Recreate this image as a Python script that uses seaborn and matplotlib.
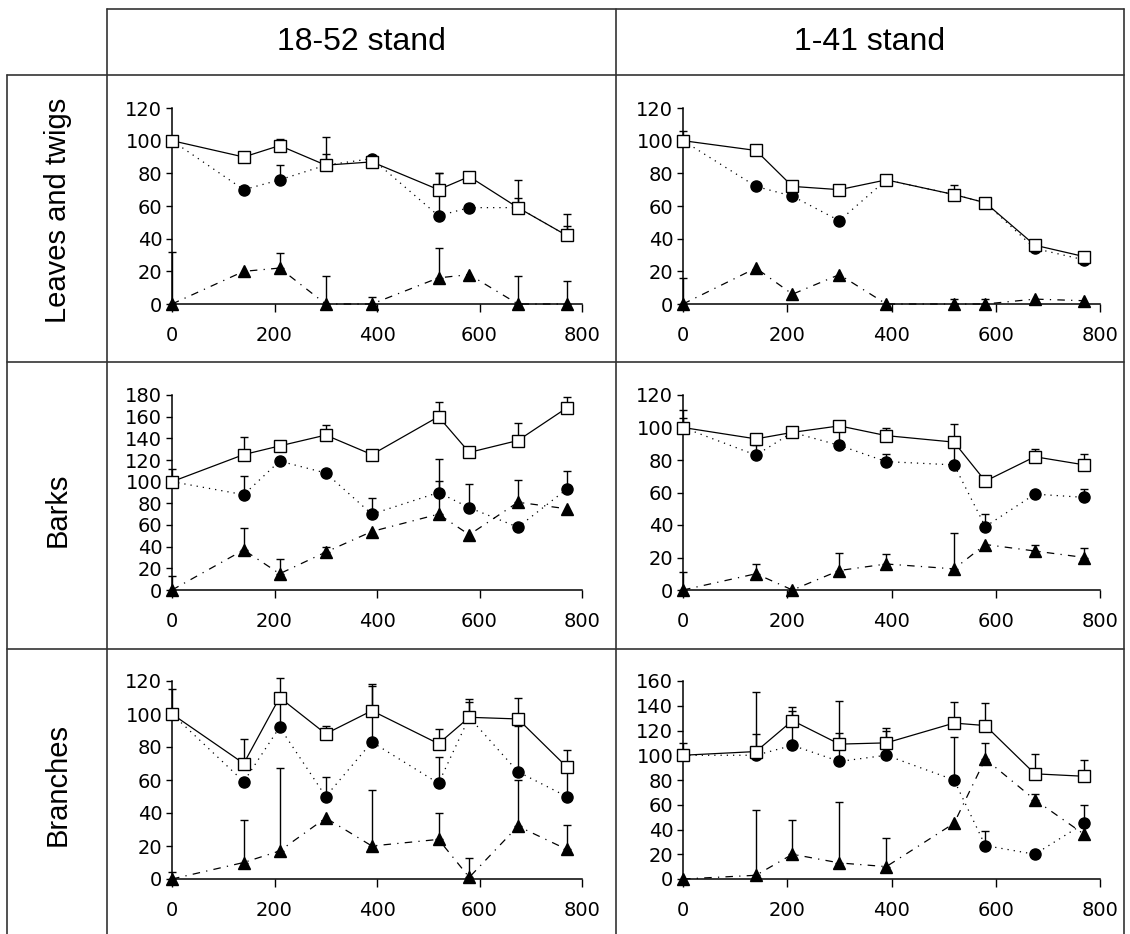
import matplotlib
matplotlib.use("Agg")
import matplotlib.pyplot as plt
from matplotlib.lines import Line2D
import pandas as pd
import seaborn as sns

# distance along the transect, shared by every panel
distance = [0, 140, 210, 300, 390, 520, 580, 675, 770]

stands = ["18-52 stand", "1-41 stand"]
parts = ["Leaves and twigs", "Barks", "Branches"]

# Leaves and twigs - 18-52 stand
leaves_a_total = [100, 90, 97, 85, 87, 70, 78, 59, 42]
leaves_a_total_err = [0, 2, 4, 17, 3, 10, 0, 17, 13]
leaves_a_circle = [100, 70, 76, 85, 89, 54, 59, 59, 42]
leaves_a_circle_err = [0, 0, 9, 7, 0, 26, 0, 6, 6]
leaves_a_tri = [0, 20, 22, 0, 0, 16, 18, 0, 0]
leaves_a_tri_err = [32, 0, 9, 17, 4, 18, 0, 17, 14]

# Leaves and twigs - 1-41 stand
leaves_b_total = [100, 94, 72, 70, 76, 67, 62, 36, 29]
leaves_b_total_err = [6, 0, 0, 0, 0, 6, 0, 0, 0]
leaves_b_circle = [100, 72, 66, 51, 76, 67, 62, 34, 27]
leaves_b_circle_err = [0, 0, 0, 0, 0, 0, 0, 0, 0]
leaves_b_tri = [0, 22, 6, 18, 0, 0, 0, 3, 2]
leaves_b_tri_err = [16, 0, 0, 0, 0, 3, 3, 0, 0]

# Barks - 18-52 stand
barks_a_total = [100, 125, 133, 143, 125, 160, 127, 138, 168]
barks_a_total_err = [12, 16, 5, 9, 0, 14, 5, 16, 10]
barks_a_circle = [100, 88, 119, 108, 70, 90, 76, 58, 93]
barks_a_circle_err = [0, 17, 0, 0, 15, 31, 22, 0, 17]
barks_a_tri = [0, 37, 15, 35, 54, 70, 51, 81, 75]
barks_a_tri_err = [13, 20, 14, 5, 0, 31, 0, 21, 0]

# Barks - 1-41 stand
barks_b_total = [100, 93, 97, 101, 95, 91, 67, 82, 77]
barks_b_total_err = [11, 0, 0, 0, 5, 11, 0, 5, 7]
barks_b_circle = [100, 83, 97, 89, 79, 77, 39, 59, 57]
barks_b_circle_err = [6, 6, 0, 12, 5, 14, 8, 0, 5]
barks_b_tri = [0, 10, 0, 12, 16, 13, 28, 24, 20]
barks_b_tri_err = [11, 6, 0, 11, 6, 22, 0, 4, 6]

# Branches - 18-52 stand
branches_a_total = [100, 70, 110, 88, 102, 82, 98, 97, 68]
branches_a_total_err = [15, 15, 12, 5, 16, 9, 11, 13, 10]
branches_a_circle = [100, 59, 92, 50, 83, 58, 98, 65, 50]
branches_a_circle_err = [0, 0, 18, 12, 34, 16, 9, 28, 15]
branches_a_tri = [0, 10, 17, 37, 20, 24, 1, 32, 18]
branches_a_tri_err = [4, 26, 50, 0, 34, 16, 12, 28, 15]

# Branches - 1-41 stand
branches_b_total = [100, 103, 128, 109, 110, 126, 124, 85, 83]
branches_b_total_err = [10, 48, 11, 35, 12, 17, 18, 16, 13]
branches_b_circle = [100, 100, 108, 95, 100, 80, 27, 20, 45]
branches_b_circle_err = [0, 17, 28, 23, 20, 35, 12, 0, 15]
branches_b_tri = [0, 3, 20, 13, 10, 45, 97, 64, 36]
branches_b_tri_err = [0, 53, 28, 49, 23, 0, 13, 5, 0]

y_max = {("Leaves and twigs", 0): 120, ("Leaves and twigs", 1): 120,
         ("Barks", 0): 180, ("Barks", 1): 120,
         ("Branches", 0): 120, ("Branches", 1): 160}

panel_data = {
    ("Leaves and twigs", 0): [(leaves_a_total, leaves_a_total_err), (leaves_a_circle, leaves_a_circle_err), (leaves_a_tri, leaves_a_tri_err)],
    ("Leaves and twigs", 1): [(leaves_b_total, leaves_b_total_err), (leaves_b_circle, leaves_b_circle_err), (leaves_b_tri, leaves_b_tri_err)],
    ("Barks", 0): [(barks_a_total, barks_a_total_err), (barks_a_circle, barks_a_circle_err), (barks_a_tri, barks_a_tri_err)],
    ("Barks", 1): [(barks_b_total, barks_b_total_err), (barks_b_circle, barks_b_circle_err), (barks_b_tri, barks_b_tri_err)],
    ("Branches", 0): [(branches_a_total, branches_a_total_err), (branches_a_circle, branches_a_circle_err), (branches_a_tri, branches_a_tri_err)],
    ("Branches", 1): [(branches_b_total, branches_b_total_err), (branches_b_circle, branches_b_circle_err), (branches_b_tri, branches_b_tri_err)],
}
series_names = ["total", "circle", "triangle"]

# long table for seaborn
rows = []
for (part, col), series in panel_data.items():
    for name, (vals, errs) in zip(series_names, series):
        for d, v, e in zip(distance, vals, errs):
            rows.append(dict(part=part, stand=col, series=name, distance=d, value=v, err=e))
df = pd.DataFrame(rows)

styles = {
    "total": dict(marker="s", mfc="white", ls="-", ms=9, z=6),
    "circle": dict(marker="o", mfc="black", ls=(0, (1, 4)), ms=8, z=5),
    "triangle": dict(marker="^", mfc="black", ls=(0, (6, 5, 1, 5)), ms=9, z=4),
}

sns.set_style("ticks")
plt.rcParams["font.family"] = ["DejaVu Sans"]
plt.rcParams["text.color"] = "black"

W, H = 1130, 934
fig = plt.figure(figsize=(W / 100, H / 100), dpi=100)

# panel boxes in pixels: x at 0, x at 800, y at 0, y at top
col_x = [(172, 582), (683, 1100)]
row_y = {"Leaves and twigs": (304, 108), "Barks": (590, 395), "Branches": (879, 681)}

for part in parts:
    for col in range(2):
        x0, x1 = col_x[col]
        y0, y1 = row_y[part]
        ax = fig.add_axes([x0 / W, 1 - y0 / H, (x1 - x0) / W, (y0 - y1) / H])
        sub = df[(df.part == part) & (df.stand == col)]
        for name in series_names:
            s = sub[sub.series == name]
            st = styles[name]
            sns.lineplot(data=s, x="distance", y="value", ax=ax, color="black",
                         linestyle=st["ls"], linewidth=0.9, marker=st["marker"],
                         markersize=st["ms"], markerfacecolor=st["mfc"],
                         markeredgecolor="black", markeredgewidth=1,
                         clip_on=False, zorder=st["z"], estimator=None,
                         errorbar=None, sort=False, legend=False)
            e = s[s.err > 0]
            ax.errorbar(e.distance, e.value, yerr=[[0] * len(e), e.err], fmt="none",
                        ecolor="black", elinewidth=1, capsize=3, capthick=1,
                        clip_on=False, zorder=3)
        ax.set_xlim(0, 800)
        ax.set_ylim(0, y_max[(part, col)])
        ax.set_xticks([0, 200, 400, 600, 800])
        ax.set_yticks(range(0, y_max[(part, col)] + 1, 20))
        ax.set_xlabel("")
        ax.set_ylabel("")
        ax.set_facecolor("none")
        for side in ["top", "right"]:
            ax.spines[side].set_visible(False)
        for side in ["left", "bottom"]:
            ax.spines[side].set_linewidth(1.1)
            ax.spines[side].set_color("black")
        ax.tick_params(axis="x", direction="out", length=6, width=1, pad=10,
                       labelsize=14, colors="black")
        ax.tick_params(axis="y", direction="out", length=4, width=1, pad=3,
                       labelsize=14, colors="black")
        for lab in ax.get_xticklabels() + ax.get_yticklabels():
            lab.set_family("DejaVu Sans")

# table frame
def line_px(xa, ya, xb, yb):
    fig.add_artist(Line2D([xa / W, xb / W], [1 - ya / H, 1 - yb / H],
                          transform=fig.transFigure, color="#333333", linewidth=1.2))

line_px(107, 9, 1124, 9)
for y in [75, 362, 649]:
    line_px(7, y, 1124, y)
line_px(7, 75, 7, H)
for x in [107, 616, 1124]:
    line_px(x, 9, x, H)

header_x = [361, 870]
for name, x in zip(stands, header_x):
    fig.text(x / W, 1 - 42 / H, name, ha="center", va="center",
             fontsize=23, family="Liberation Sans", color="black")

label_y = [210, 510, 785]
for name, y in zip(parts, label_y):
    fig.text(58 / W, 1 - y / H, name, ha="center", va="center", rotation=90,
             fontsize=21, family="Liberation Sans", color="black")

fig.savefig("out.png", dpi=100)
